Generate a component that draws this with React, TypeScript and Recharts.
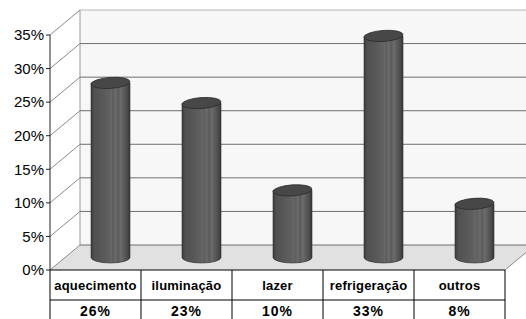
import { BarChart, Bar, XAxis, YAxis, ReferenceArea } from 'recharts'

const CATEGORIES = ['aquecimento', 'iluminação', 'lazer', 'refrigeração', 'outros']
const VALUES = [26, 23, 10, 33, 8]
const Y_TICKS = [0, 5, 10, 15, 20, 25, 30, 35]

const data = CATEGORIES.map((name, i) => ({ name, value: VALUES[i] }))

// depth of the fake 3D box
const DX = 30
const DY = 25
const FONT = '"Liberation Sans", Arial, sans-serif'

function Walls(props: any) {
  const { x, y, width, height } = props
  const yOf = (t: number) => y + height * (1 - t / 35)
  const bottom = y + height
  return (
    <g>
      <rect x={x + DX} y={y - DY} width={width} height={height} fill="#f7f7f7" />
      <polygon
        points={`${x},${bottom} ${x + DX},${bottom - DY} ${x + width + DX},${bottom - DY} ${x + width},${bottom}`}
        fill="#e1e1e1"
      />
      <line x1={x + width} y1={bottom} x2={x + width + DX} y2={bottom - DY} stroke="#8a8a8a" />
      <line x1={x + DX} y1={y - DY} x2={x + DX} y2={bottom - DY} stroke="#9a9a9a" />
      {Y_TICKS.map((t) => {
        const yy = yOf(t)
        return (
          <g key={t}>
            <line x1={x} y1={yy} x2={x + DX} y2={yy - DY} stroke="#8c8c8c" />
            <line x1={x + DX} y1={yy - DY} x2={x + width + DX} y2={yy - DY} stroke={t === 35 ? '#b8b8b8' : '#6e6e6e'} />
          </g>
        )
      })}
    </g>
  )
}

function Cylinder(props: any) {
  const { x, y, width, height, index } = props
  const left = x + DX / 2
  const right = left + width
  const cx = left + width / 2
  const top = y - DY / 2
  const bot = y + height - DY / 2
  const rx = width / 2
  const ry = 5.5
  const id = `cyl${index}`
  return (
    <g>
      <defs>
        <linearGradient id={id} x1="0" y1="0" x2="1" y2="0">
          <stop offset="0%" stopColor="#3a3a3a" />
          <stop offset="8%" stopColor="#505050" />
          <stop offset="35%" stopColor="#5a5a5a" />
          <stop offset="50%" stopColor="#626262" />
          <stop offset="52%" stopColor="#6e6e6e" />
          <stop offset="54%" stopColor="#5c5c5c" />
          <stop offset="64%" stopColor="#6a6a6a" />
          <stop offset="70%" stopColor="#5a5a5a" />
          <stop offset="76%" stopColor="#6c6c6c" />
          <stop offset="84%" stopColor="#5c5c5c" />
          <stop offset="92%" stopColor="#4e4e4e" />
          <stop offset="100%" stopColor="#363636" />
        </linearGradient>
      </defs>
      <path
        d={`M${left},${top} L${left},${bot} A${rx},${ry} 0 0 0 ${right},${bot} L${right},${top} Z`}
        fill={`url(#${id})`}
        stroke="#333"
        strokeWidth={0.6}
      />
      <ellipse
        cx={cx}
        cy={top}
        rx={rx}
        ry={ry}
        transform={`rotate(-4 ${cx} ${top})`}
        fill="#474747"
        stroke="#2c2c2c"
        strokeWidth={0.8}
      />
    </g>
  )
}

function TableCell(props: any) {
  const { x, y, payload, index } = props
  const half = payload.offset ?? 45.5
  const l = x - half
  const r = x + half
  return (
    <g>
      {index === 0 && <line x1={l} y1={y} x2={l} y2={y + 60} stroke="#000" />}
      <line x1={r} y1={y} x2={r} y2={y + 60} stroke="#000" />
      <line x1={l} y1={y + 30} x2={r} y2={y + 30} stroke="#000" />
      <text x={x} y={y + 20} textAnchor="middle" fontFamily={FONT} fontSize={13} fontWeight="bold" fill="#000" letterSpacing={0.2}>
        {payload.value}
      </text>
      <text x={x} y={y + 46} textAnchor="middle" fontFamily={FONT} fontSize={14} fontWeight="bold" fill="#000" letterSpacing={1}>
        {`${VALUES[index]}%`}
      </text>
    </g>
  )
}

export default function App() {
  return (
    <div style={{ position: 'absolute', left: 0, top: 0, background: '#fff' }}>
      <BarChart width={526} height={319} data={data} margin={{ top: 35, right: 21, bottom: 0, left: 0 }}>
        <ReferenceArea y1={0} y2={35} ifOverflow="visible" shape={(p: any) => <Walls {...p} />} />
        <XAxis
          dataKey="name"
          height={49}
          tickSize={0}
          tickMargin={0}
          tickLine={false}
          axisLine={{ stroke: '#000' }}
          interval={0}
          tick={(p: any) => <TableCell {...p} />}
        />
        <YAxis
          domain={[0, 35]}
          ticks={Y_TICKS}
          interval={0}
          width={50}
          tickSize={4}
          axisLine={{ stroke: '#222' }}
          tickLine={{ stroke: '#222' }}
          tick={{ fontSize: 15, fill: '#000', fontFamily: FONT }}
          tickFormatter={(v) => `${v}%`}
        />
        <Bar dataKey="value" barSize={39} isAnimationActive={false} shape={(p: any) => <Cylinder {...p} />} />
      </BarChart>
    </div>
  )
}
